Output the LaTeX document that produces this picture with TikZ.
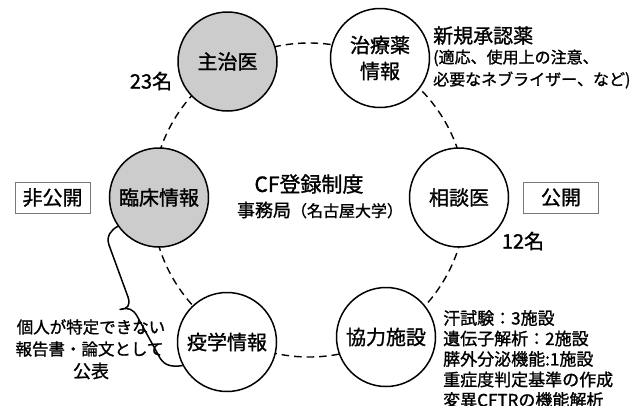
\documentclass[tikz,border=0pt]{standalone}
\usepackage{fontspec}
\setmainfont{Noto Sans CJK JP}[FakeBold=1.2]
\definecolor{nodegray}{RGB}{204,204,204}
\definecolor{boxgray}{RGB}{120,120,120}
\begin{document}
\begin{tikzpicture}[x=1pt,y=-1pt,
  hub/.style={circle, draw=black, line width=1.5pt, minimum size=99pt, inner sep=0pt, align=center, font=\fontsize{20}{26}\selectfont},
  grayhub/.style={hub, fill=nodegray},
  whitehub/.style={hub, fill=white},
  ring/.style={line width=1.4pt, dash pattern=on 7.5pt off 5pt},
  tagbox/.style={draw=boxgray, line width=0.8pt, minimum width=75pt, minimum height=31pt, inner sep=0pt, font=\fontsize{20}{24}\selectfont},
  big/.style={inner sep=0pt, font=\fontsize{20}{24}\selectfont},
  note/.style={inner sep=0pt, anchor=west, font=\fontsize{16}{20}\selectfont},
  fac/.style={inner sep=0pt, anchor=west, font=\fontsize{17}{20}\selectfont},
  pub/.style={inner sep=0pt, font=\fontsize{16.5}{20}\selectfont},
  brace/.style={line width=1.5pt, line join=round}
]
\useasboundingbox (0,0) rectangle (638,405);

\coordinate (ctr) at (309,200);
\draw[ring] (ctr) circle[radius=157pt];

\node[grayhub]  (shuji) at (227.5,61.5) {主治医};
\node[whitehub] (chiryo) at (380,58) {治療薬\\情報};
\node[whitehub] (sodan) at (459,197.5) {相談医};
\node[whitehub] (kyoryoku) at (386,337) {協力施設};
\node[whitehub] (ekigaku) at (227,342) {疫学情報};
\node[grayhub]  (rinsho) at (159,197.5) {臨床情報};

\node[inner sep=0pt, font=\fontsize{21}{24}\selectfont] (title) at (309,184) {CF登録制度};
\node[inner sep=0pt, font=\fontsize{18}{22}\selectfont] (office) at (320,210) {事務局{\fontsize{16}{20}\selectfont（名古屋大学）}};

\node[tagbox] (hikokai) at (52.5,197.5) {非公開};
\node[tagbox] (kokai) at (561,197.5) {公開};

\node[big] (n23) at (151,81) {23名};
\node[big] (n12) at (523,241) {12名};

\node[big, anchor=west] (shinki) at (433,35.5) {新規承認薬};
\node[note] (shinki2) at (433,58) {(適応、使用上の注意、};
\node[note] (shinki3) at (433,80) {必要なネブライザー、など)};

\node[fac] (f1) at (443,318) {汗試験：3施設};
\node[fac] (f2) at (443,338.5) {遺伝子解析：2施設};
\node[fac] (f3) at (443,359) {膵外分泌機能:1施設};
\node[fac] (f4) at (443,379.5) {重症度判定基準の作成};
\node[fac] (f5) at (443,400) {変異CFTRの機能解析};

\node[pub] (p1) at (91,327) {個人が特定できない};
\node[pub] (p2) at (89.5,349) {報告書・論文として};
\node[inner sep=0pt, font=\fontsize{18}{20}\selectfont] (p3) at (91,371) {公表};

\coordinate (tip) at (120,309.5);
\draw[brace] (rinsho.215) .. controls (111,230) and (106,236) .. (109,245)
  -- (128,297) .. controls (131,306) and (127,309) .. (tip)
  .. controls (128,307) and (133,309) .. (137,316)
  -- (160,358) .. controls (165,366) and (172,367) .. (ekigaku.208);
\end{tikzpicture}
\end{document}
